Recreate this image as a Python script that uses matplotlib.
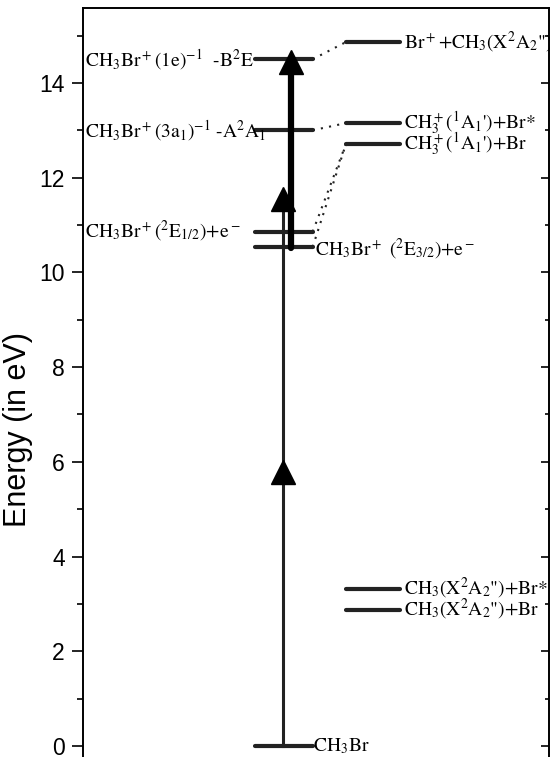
import numpy as np
import matplotlib
matplotlib.use('Agg')
import matplotlib.pyplot as plt

plt.rcParams['mathtext.fontset'] = 'stix'
plt.rcParams['font.family'] = ['Liberation Sans', 'DejaVu Sans']

# energy levels (eV) for each column of the diagram
ground_levels = [0.0]
ion_levels = [10.54, 10.86, 13.0, 14.5]
frag_levels = [2.88, 3.32, 12.7, 13.15, 14.86]

# dotted correlation lines: (ion level, fragment level)
links = [(10.54, 12.7), (10.86, 12.7), (13.0, 13.15), (14.5, 14.86)]

# excitation arrows: (start, end of shaft, head centres)
thin_arrow = (0.0, 11.5, [5.78, 11.55])
thick_arrow = (10.52, 14.3, [14.44])

# labels
left_labels = [
    (14.5, r'CH$_3$Br$^+$(1e)$^{-1}$  -B$^2$E'),
    (13.0, r'CH$_3$Br$^+$(3a$_1$)$^{-1}$ -A$^2$A$_1$'),
    (10.86, r'CH$_3$Br$^+$($^2$E$_{1/2}$)+e$^-$'),
]
mid_labels = [
    (10.54, r'CH$_3$Br$^+$ ($^2$E$_{3/2}$)+e$^-$'),
    (0.0, r'CH$_3$Br'),
]
right_labels = [
    (14.86, r'Br$^+$+CH$_3$(X$^2$A$_2$")'),
    (13.15, r"CH$_3^+$($^1$A$_1$')+Br*"),
    (12.7, r"CH$_3^+$($^1$A$_1$')+Br"),
    (3.32, r'CH$_3$(X$^2$A$_2$")+Br*'),
    (2.88, r'CH$_3$(X$^2$A$_2$")+Br'),
]

# column extents (arbitrary x units)
mid_col = (3.69, 4.93)
right_col = (5.64, 6.80)

color = '#222222'

fig = plt.figure(figsize=(5.5, 7.57), dpi=100)
ax = fig.add_axes([0.151, 0.0, 0.847, 0.9894])
ax.set_xlim(0, 10)
ax.set_ylim(-0.23, 15.58)

for e in ground_levels + ion_levels:
    ax.plot(mid_col, [e, e], color=color, lw=3, solid_capstyle='round')
for e in frag_levels:
    ax.plot(right_col, [e, e], color=color, lw=3, solid_capstyle='round')

for e1, e2 in links:
    ax.plot([mid_col[1], right_col[0]], [e1, e2], color=color, lw=1.5,
            ls=(0, (1, 3)))

# thin arrow
x_thin = 4.29
ax.plot([x_thin, x_thin], thin_arrow[:2], color=color, lw=2.2)
ax.plot([x_thin] * len(thin_arrow[2]), thin_arrow[2], ls='none', marker='^',
        ms=17, color='black')

# thick arrow
x_thick = 4.46
ax.plot([x_thick, x_thick], thick_arrow[:2], color='black', lw=4.5,
        solid_capstyle='round')
ax.plot([x_thick] * len(thick_arrow[2]), thick_arrow[2], ls='none', marker='^',
        ms=17, color='black')

tfont = dict(family='STIXGeneral', fontsize=14, color='black')
for e, s in left_labels:
    ax.text(0.05, e, s, va='center', ha='left', **tfont)
ax.text(4.98, mid_labels[0][0] - 0.05, mid_labels[0][1], va='center',
        ha='left', **tfont)
ax.text(4.94, mid_labels[1][0], mid_labels[1][1], va='center', ha='left',
        **tfont)
for e, s in right_labels:
    ax.text(6.88, e, s, va='center', ha='left', clip_on=False, **tfont)

ax.spines['bottom'].set_visible(False)
ax.set_xticks([])
ax.set_yticks(np.arange(0, 15, 2))
ax.set_yticks(np.arange(1, 16, 2), minor=True)
ax.tick_params(axis='y', which='major', direction='out', length=8, width=1.2,
               labelsize=16.5, pad=5)
ax.tick_params(axis='y', which='minor', direction='out', length=4, width=1.2)
ax.set_ylabel('Energy (in eV)', fontsize=22, labelpad=8)
ax.yaxis.set_label_coords(-0.108, 0.437)

# inward ticks on the right-hand spine
ax_r = ax.twinx()
ax_r.set_ylim(ax.get_ylim())
ax_r.set_yticks(np.arange(0, 15, 2))
ax_r.set_yticks(np.arange(1, 16, 2), minor=True)
ax_r.tick_params(axis='y', which='major', direction='in', length=6, width=1.2,
                 labelright=False)
ax_r.tick_params(axis='y', which='minor', direction='in', length=3, width=1.2)
ax_r.spines['bottom'].set_visible(False)

for a in (ax, ax_r):
    for sp in a.spines.values():
        sp.set_linewidth(1.2)

fig.savefig('out.png', dpi=100)
